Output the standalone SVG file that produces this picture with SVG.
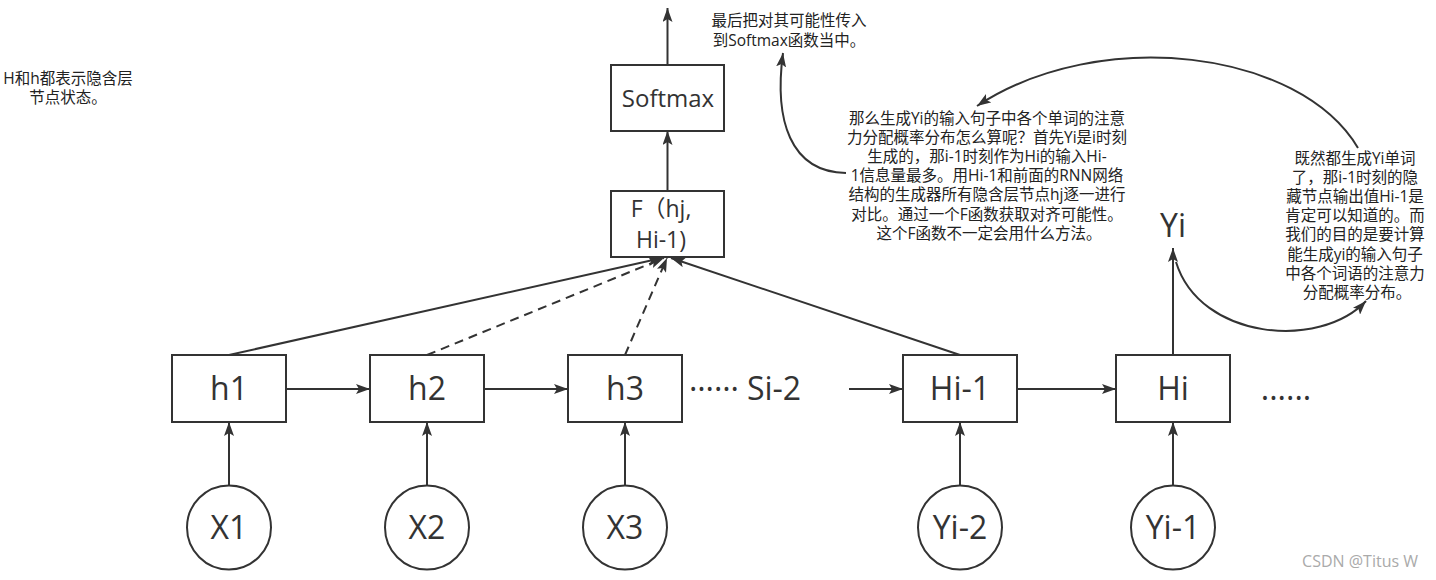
<svg xmlns="http://www.w3.org/2000/svg" width="1436" height="580" viewBox="0 0 1436 580">
<style>
.box{fill:#fff;stroke:#333;stroke-width:2}
.lbl{font-family:"Open Sans","Noto Sans CJK SC",sans-serif;fill:#333;text-anchor:middle}
.big{font-size:32px}
.mid{font-size:24px}
.ftx{font-size:23px}
.note{font-family:"Open Sans","Noto Sans CJK SC",sans-serif;font-size:15.5px;fill:#222;text-anchor:middle}
.edge{fill:none;stroke:#333;stroke-width:2}
.dash{stroke-dasharray:9 6}
.wm{font-family:"Open Sans","Noto Sans CJK SC",sans-serif;font-size:16px;fill:#aaa;text-anchor:end}
</style>
<defs>
<marker id="arr" viewBox="0 0 14 10" refX="14" refY="5" markerWidth="14" markerHeight="10" markerUnits="userSpaceOnUse" orient="auto">
<path d="M0,0 L14,5 L0,10 L3,5 Z" fill="#333"/>
</marker>
</defs>
<rect width="1436" height="580" fill="#fff"/>

<g id="connectors">
<path class="edge" d="M667.5,65 V8" marker-end="url(#arr)"/>
<path class="edge" d="M667.5,191 V131" marker-end="url(#arr)"/>
<path class="edge" d="M229,355 L662,258" marker-end="url(#arr)"/>
<path class="edge dash" d="M427,355 L664,258" marker-end="url(#arr)"/>
<path class="edge dash" d="M625,355 L667,258" marker-end="url(#arr)"/>
<path class="edge" d="M960,355 L671,258" marker-end="url(#arr)"/>
<path class="edge" d="M286,389 H370" marker-end="url(#arr)"/>
<path class="edge" d="M484,389 H568" marker-end="url(#arr)"/>
<path class="edge" d="M849,389 H903" marker-end="url(#arr)"/>
<path class="edge" d="M1017,389 H1116" marker-end="url(#arr)"/>
<path class="edge" d="M1173,355 V248" marker-end="url(#arr)"/>
<path class="edge" d="M229,486 V422" marker-end="url(#arr)"/>
<path class="edge" d="M427,486 V422" marker-end="url(#arr)"/>
<path class="edge" d="M625,486 V422" marker-end="url(#arr)"/>
<path class="edge" d="M960,486 V422" marker-end="url(#arr)"/>
<path class="edge" d="M1173,486 V422" marker-end="url(#arr)"/>
<path class="edge" d="M846,173 C790,172 774,120 783,53" marker-end="url(#arr)"/>
<path class="edge" d="M1358,148 C1300,50 1100,25 977,106" marker-end="url(#arr)"/>
<path class="edge" d="M1176,262 C1200,340 1320,350 1366,301" marker-end="url(#arr)"/>
</g>

<g id="softmax"><rect class="box" x="611" y="65" width="113" height="66"/><text class="lbl mid" x="668" y="107">Softmax</text></g>
<g id="f"><rect class="box" x="611" y="191" width="113" height="66"/><text class="lbl ftx"><tspan x="661" y="217">F（hj,</tspan><tspan x="661" y="247.5">Hi-1)</tspan></text></g>

<g id="h1"><rect class="box" x="172" y="355" width="114" height="67"/><text class="lbl big" x="229" y="400">h1</text></g>
<g id="h2"><rect class="box" x="370" y="355" width="114" height="67"/><text class="lbl big" x="427" y="400">h2</text></g>
<g id="h3"><rect class="box" x="568" y="355" width="114" height="67"/><text class="lbl big" x="625" y="400">h3</text></g>
<g id="si2"><text class="lbl big" x="714" y="391">……</text><text class="lbl big" x="774" y="400">Si-2</text></g>
<g id="hi1"><rect class="box" x="903" y="355" width="114" height="67"/><text class="lbl big" x="960" y="400">Hi-1</text></g>
<g id="hi"><rect class="box" x="1116" y="355" width="114" height="67"/><text class="lbl big" x="1173" y="400">Hi</text></g>
<g id="dots"><text class="lbl big" x="1286" y="400">......</text></g>
<g id="yi"><text class="lbl big" x="1173" y="237">Yi</text></g>

<g id="x1"><circle class="box" cx="229" cy="527.5" r="42"/><text class="lbl big" x="229" y="539">X1</text></g>
<g id="x2"><circle class="box" cx="427" cy="527.5" r="42"/><text class="lbl big" x="427" y="539">X2</text></g>
<g id="x3"><circle class="box" cx="625" cy="527.5" r="42"/><text class="lbl big" x="625" y="539">X3</text></g>
<g id="yi2"><circle class="box" cx="960" cy="527.5" r="42"/><text class="lbl big" x="960" y="539">Yi-2</text></g>
<g id="yi1"><circle class="box" cx="1173" cy="527.5" r="42"/><text class="lbl big" x="1173" y="539">Yi-1</text></g>

<g id="note1"><text class="note"><tspan x="68" y="83.8">H和h都表示隐含层</tspan><tspan x="68" y="103.2">节点状态。</tspan></text></g>
<g id="note2"><text class="note"><tspan x="789" y="26.3">最后把对其可能性传入</tspan><tspan x="789" y="45.7">到Softmax函数当中。</tspan></text></g>
<g id="note3"><text class="note">
<tspan x="989" y="123.5">那么生成Yi的输入句子中各个单词的注意</tspan>
<tspan x="989" y="142.7">力分配概率分布怎么算呢？首先Yi是i时刻</tspan>
<tspan x="989" y="161.9">生成的，那i-1时刻作为Hi的输入Hi-</tspan>
<tspan x="989" y="181.1">1信息量最多。用Hi-1和前面的RNN网络</tspan>
<tspan x="989" y="200.3">结构的生成器所有隐含层节点hj逐一进行</tspan>
<tspan x="989" y="219.5">对比。通过一个F函数获取对齐可能性。</tspan>
<tspan x="989" y="238.7">这个F函数不一定会用什么方法。</tspan>
</text></g>
<g id="note4"><text class="note">
<tspan x="1357" y="163.5">既然都生成Yi单词</tspan>
<tspan x="1357" y="182.7">了，那i-1时刻的隐</tspan>
<tspan x="1357" y="201.9">藏节点输出值Hi-1是</tspan>
<tspan x="1357" y="221.1">肯定可以知道的。而</tspan>
<tspan x="1357" y="240.3">我们的目的是要计算</tspan>
<tspan x="1357" y="259.5">能生成yi的输入句子</tspan>
<tspan x="1357" y="278.7">中各个词语的注意力</tspan>
<tspan x="1357" y="297.9">分配概率分布。</tspan>
</text></g>
<g id="watermark"><text class="wm" x="1418" y="567">CSDN @Titus W</text></g>
</svg>
